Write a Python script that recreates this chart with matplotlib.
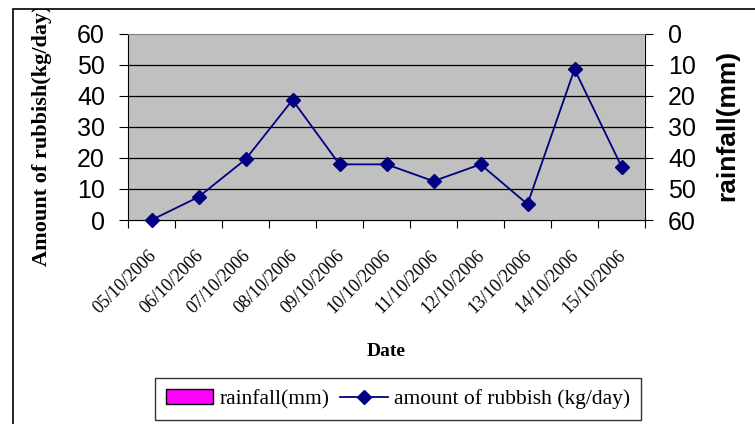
import numpy as np
import matplotlib.pyplot as plt
import matplotlib.transforms as mtrans
from matplotlib.patches import Rectangle

dates = ["05/10/2006", "06/10/2006", "07/10/2006", "08/10/2006", "09/10/2006",
         "10/10/2006", "11/10/2006", "12/10/2006", "13/10/2006", "14/10/2006",
         "15/10/2006"]
rubbish = [0, 7.4, 19.5, 38.6, 17.9, 17.9, 12.5, 17.9, 5.1, 48.5, 17.2]
rainfall = [0, 0, 0, 0, 0, 0, 0, 0, 0, 0, 0]
y_ticks = [0, 10, 20, 30, 40, 50, 60]

fig = plt.figure(figsize=(7.55, 4.24), dpi=100)
W, H = 755, 424
ax = fig.add_axes([128 / W, 1 - 220 / H, (645 - 128) / W, (220 - 33.5) / H])
ax.set_facecolor("#c0c0c0")
x = np.arange(len(dates))

# rainfall on an inverted right axis (all zero -> no visible bars)
ax2 = ax.twinx()
ax2.bar(x, rainfall, width=0.6, color="#ff00ff", edgecolor="black", label="rainfall(mm)")
ax2.set_ylim(60, 0)
ax2.set_yticks(y_ticks)

ax.set_zorder(ax2.get_zorder() + 1)
ax2.patch.set_visible(False)
for yv in y_ticks[1:-1]:
    ax.axhline(yv, color="black", lw=0.9, zorder=1)
ax.plot(x, rubbish, color="#000080", lw=1.3, marker="D", ms=7, zorder=3,
        label="amount of rubbish (kg/day)", clip_on=False)
ax.set_ylim(0, 60)
ax.set_xlim(-0.5, len(dates) - 0.5)
ax.set_yticks(y_ticks)
ax.set_xticks(np.arange(-0.5, len(dates)))
ax.set_xticklabels([])
ax.tick_params(axis="x", length=6, direction="out", color="black")
ax.tick_params(axis="y", length=6.5, direction="out", labelsize=18, pad=10)
for lab in ax.get_yticklabels():
    lab.set_family("Liberation Sans")
ax2.tick_params(axis="y", length=6, direction="out", labelsize=18, pad=10.5)
for lab in ax2.get_yticklabels():
    lab.set_family("Liberation Sans")

# rotated date labels
off = mtrans.ScaledTranslation(-0.04, -0.27, fig.dpi_scale_trans)
trans = mtrans.blended_transform_factory(ax.transData, ax.transAxes) + off
for xi, d in zip(x, dates):
    ax.text(xi, 0, d, transform=trans, rotation=45, ha="right", va="top",
            rotation_mode="anchor", family="Liberation Serif", fontsize=13,
            clip_on=False)

ax.spines["top"].set_color("#808080")
ax.spines["right"].set_visible(False)
ax.spines["left"].set_color("black")
ax2.spines["top"].set_visible(False)
ax2.spines["left"].set_visible(False)
ax2.spines["right"].set_color("black")

fig.text(42 / W, 1 - 135 / H, "Amount of rubbish(kg/day)", rotation=90,
         family="Liberation Serif", fontweight="bold", fontsize=16,
         ha="center", va="center")
fig.text(727 / W, 1 - 125 / H, "rainfall(mm)", rotation=90,
         family="Liberation Sans", fontweight="bold", fontsize=19,
         ha="center", va="center")
fig.text(386 / W, 1 - 352 / H, "Date", family="Liberation Serif",
         fontweight="bold", fontsize=14, ha="center", va="center")

h1, l1 = ax2.get_legend_handles_labels()
h2, l2 = ax.get_legend_handles_labels()
leg = fig.legend(h1 + h2, l1 + l2, loc="center", bbox_to_anchor=(398 / W, 1 - 399 / H),
                 ncol=2, frameon=True, fancybox=False, edgecolor="black",
                 prop={"family": "Liberation Serif", "size": 15.5},
                 handlelength=2.2, handletextpad=0.3, columnspacing=0.5,
                 borderpad=0.5)
leg.get_frame().set_linewidth(1.0)

# outer chart frame, top part clipped like the original
fig.patches.append(Rectangle((0, 1 - 9 / H), 1, 9 / H, transform=fig.transFigure,
                             facecolor="white", edgecolor="none", zorder=10))
fig.patches.append(Rectangle((13 / W, -0.1), 1, 1 - 9 / H + 0.1,
                             transform=fig.transFigure, fill=False,
                             edgecolor="black", lw=1.2, zorder=11))
fig.savefig("out.png", dpi=100)
